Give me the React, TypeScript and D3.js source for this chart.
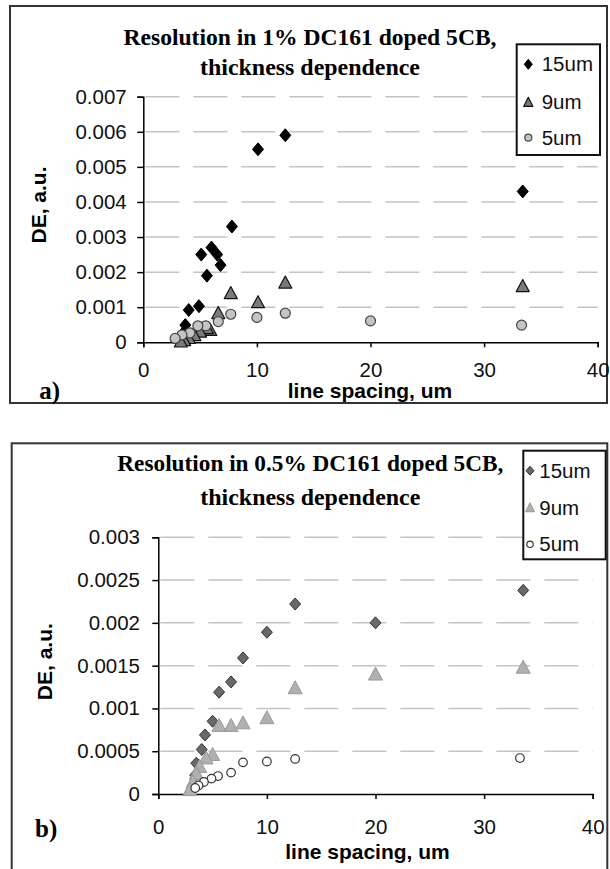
import React, { useEffect, useRef } from 'react';
import * as d3 from 'd3';

// panel a) 1% DC161
const aSpacing15 = [33.4, 12.5, 10.1, 7.8, 6.0, 5.1, 6.5, 6.8, 5.6, 4.9, 4.0, 3.7, 3.5, 3.3, 3.6];
const aDE15 = [0.0043, 0.0059, 0.0055, 0.0033, 0.0027, 0.0025, 0.0025, 0.0022, 0.0019, 0.00103, 0.00092, 0.00049, 0.00026, 0.00015, 0.00005];
const aSpacing9 = [33.4, 12.5, 10.1, 7.7, 6.6, 5.9, 5.6, 5.0, 4.5, 4.0, 3.6, 3.3];
const aDE9 = [0.0016, 0.0017, 0.00114, 0.0014, 0.00083, 0.00035, 0.0004, 0.0003, 0.0002, 0.00012, 0.00006, 0.00002];
const aSpacing5 = [33.3, 20.0, 12.5, 10.0, 7.7, 6.6, 5.5, 4.8, 4.1, 3.4, 2.8];
const aDE5 = [0.00049, 0.00061, 0.00083, 0.00071, 0.0008, 0.00059, 0.00047, 0.00047, 0.00027, 0.00021, 0.00011];

// panel b) 0.5% DC161
const bSpacing15 = [33.6, 20.0, 12.6, 10.0, 7.8, 6.7, 5.6, 5.0, 4.3, 4.0, 3.5, 3.4, 3.2];
const bDE15 = [0.00238, 0.002, 0.00222, 0.00189, 0.00159, 0.00131, 0.00119, 0.00085, 0.00069, 0.00052, 0.00036, 0.00022, 0.00009];
const bSpacing9 = [33.6, 20.0, 12.6, 10.0, 7.8, 6.7, 5.6, 5.0, 4.4, 3.8, 3.5, 3.2, 2.9];
const bDE9 = [0.00148, 0.0014, 0.00124, 0.00089, 0.00083, 0.0008, 0.0008, 0.00046, 0.00042, 0.00032, 0.00024, 0.00014, 0.00005];
const bSpacing5 = [33.3, 12.6, 10.0, 7.8, 6.7, 5.5, 4.9, 4.2, 3.7, 3.4];
const bDE5 = [0.00042, 0.00041, 0.00038, 0.00037, 0.00025, 0.00021, 0.00018, 0.00014, 0.0001, 0.00007];

const seriesNames = ['15um', '9um', '5um'];
const xTicks = [0, 10, 20, 30, 40];
const aYTicks = [0, 0.001, 0.002, 0.003, 0.004, 0.005, 0.006, 0.007];
const aYLabels = ['0', '0.001', '0.002', '0.003', '0.004', '0.005', '0.006', '0.007'];
const bYTicks = [0, 0.0005, 0.001, 0.0015, 0.002, 0.0025, 0.003];
const bYLabels = ['0', '0.0005', '0.001', '0.0015', '0.002', '0.0025', '0.003'];
const aTitle = ['Resolution in 1% DC161 doped 5CB,', 'thickness dependence'];
const bTitle = ['Resolution in 0.5% DC161 doped 5CB,', 'thickness dependence'];

const SANS = 'Arial, "Liberation Sans", sans-serif';
const SERIF = '"Times New Roman", "Liberation Serif", serif';

function shapePath(kind, cx, cy, s) {
  if (kind === 'diamond') {
    return `M${cx},${cy - s.h}L${cx + s.w},${cy}L${cx},${cy + s.h}L${cx - s.w},${cy}Z`;
  }
  if (kind === 'triangle') {
    return `M${cx},${cy - s.h * 0.55}L${cx + s.w},${cy + s.h * 0.45}L${cx - s.w},${cy + s.h * 0.45}Z`;
  }
  return null;
}

function drawMarker(g, kind, cx, cy, s, st) {
  if (kind === 'circle') {
    g.append('circle').attr('cx', cx).attr('cy', cy).attr('r', s.r)
      .attr('fill', st.fill).attr('stroke', st.stroke).attr('stroke-width', st.sw);
  } else {
    g.append('path').attr('d', shapePath(kind, cx, cy, s))
      .attr('fill', st.fill).attr('stroke', st.stroke).attr('stroke-width', st.sw)
      .attr('stroke-linejoin', 'round');
  }
}

function drawPanel(svg, p) {
  const g = svg.append('g');

  g.append('rect').attr('x', p.box[0]).attr('y', p.box[1])
    .attr('width', p.box[2] - p.box[0]).attr('height', p.box[3] - p.box[1])
    .attr('fill', 'white').attr('stroke', '#333').attr('stroke-width', 2);

  const x = d3.scaleLinear().domain([0, 40]).range([p.plot.x0, p.plot.x1]);
  const y = d3.scaleLinear().domain([0, p.yTicks[p.yTicks.length - 1]]).range([p.plot.y0, p.plot.y1]);

  // gridlines
  g.selectAll('.grid').data(p.yTicks.slice(1)).enter().append('line')
    .attr('x1', p.plot.x0 + 2).attr('x2', p.plot.x1)
    .attr('y1', d => y(d)).attr('y2', d => y(d))
    .attr('stroke', '#c4c4c4').attr('stroke-width', 1.5)
    .attr('stroke-dasharray', '34 14');

  // y axis
  const yAxis = d3.axisLeft(y).tickValues(p.yTicks).tickSize(6)
    .tickFormat((d, i) => p.yLabels[i]);
  const ya = g.append('g').attr('transform', `translate(${p.plot.x0},0)`).call(yAxis);
  ya.select('.domain').attr('stroke', '#000').attr('stroke-width', 1.5);
  ya.selectAll('.tick line').attr('stroke', '#000').attr('stroke-width', 1.5);
  ya.selectAll('.tick text').attr('x', -p.yLabelGap).attr('font-family', SANS)
    .attr('font-size', 20.5).attr('fill', '#111');

  // x axis
  const xAxis = d3.axisBottom(x).tickValues(xTicks).tickSize(5).tickSizeOuter(5);
  const xa = g.append('g').attr('transform', `translate(0,${p.plot.y0})`).call(xAxis);
  xa.select('.domain').attr('stroke', '#000').attr('stroke-width', 1.5);
  xa.selectAll('.tick line').attr('stroke', '#000').attr('stroke-width', 1.5);
  xa.selectAll('.tick text').attr('y', p.xLabelGap).attr('dy', '0.35em')
    .attr('font-family', SANS).attr('font-size', 20.5).attr('fill', '#111');

  // data
  p.series.forEach(se => {
    se.xs.forEach((v, i) => {
      drawMarker(g, se.kind, x(v), y(se.ys[i]), se.size, se.style);
    });
  });

  // title
  p.title.forEach((t, i) => {
    g.append('text').attr('x', p.titleX).attr('y', p.titleY[i]).attr('dy', '0.35em')
      .attr('text-anchor', 'middle').attr('font-family', SERIF).attr('font-weight', 'bold')
      .attr('font-size', 23).attr('textLength', p.titleLen[i]).attr('lengthAdjust', 'spacingAndGlyphs')
      .text(t);
  });

  // axis titles
  g.append('text').attr('transform', `translate(${p.yTitle[0]},${p.yTitle[1]}) rotate(-90)`)
    .attr('dy', '0.35em').attr('text-anchor', 'middle').attr('font-family', SANS)
    .attr('font-weight', 'bold').attr('font-size', 21).text('DE, a.u.');
  g.append('text').attr('x', p.xTitle[0]).attr('y', p.xTitle[1]).attr('dy', '0.35em')
    .attr('text-anchor', 'middle').attr('font-family', SANS)
    .attr('font-weight', 'bold').attr('font-size', 21).text('line spacing, um');

  g.append('text').attr('x', p.tag[0]).attr('y', p.tag[1]).attr('dy', '0.35em')
    .attr('font-family', SERIF).attr('font-weight', 'bold').attr('font-size', 25).text(p.tagText);

  // legend
  const L = p.legend;
  g.append('rect').attr('x', L.x).attr('y', L.y).attr('width', L.w).attr('height', L.h)
    .attr('fill', 'white').attr('stroke', '#111').attr('stroke-width', 2);
  p.series.forEach((se, i) => {
    drawMarker(g, se.kind, L.mx, L.rows[i], se.legendSize, se.style);
    g.append('text').attr('x', L.tx).attr('y', L.rows[i]).attr('dy', '0.35em')
      .attr('font-family', SANS).attr('font-size', 20.5).attr('fill', '#111').text(seriesNames[i]);
  });
}

export default function App() {
  const ref = useRef(null);

  useEffect(() => {
    const svg = d3.select(ref.current);
    svg.selectAll('*').remove();

    drawPanel(svg, {
      box: [10, 6, 607, 403],
      plot: { x0: 143.3, x1: 597.7, y0: 342.3, y1: 96.7 },
      yTicks: aYTicks, yLabels: aYLabels, yLabelGap: 16.6, xLabelGap: 28,
      title: aTitle, titleX: 310, titleY: [36.7, 66.7], titleLen: [373, 220],
      yTitle: [38.3, 205], xTitle: [370, 391], tag: [39.3, 390], tagText: 'a)',
      legend: { x: 516.7, y: 44.3, w: 83.3, h: 110.7, rows: [64.3, 102.3, 137.7], mx: 528.3, tx: 541.7 },
      series: [
        { xs: aSpacing15, ys: aDE15, kind: 'diamond', size: { w: 5.5, h: 6.5 }, legendSize: { w: 4, h: 5 },
          style: { fill: '#000', stroke: '#000', sw: 1 } },
        { xs: aSpacing9, ys: aDE9, kind: 'triangle', size: { w: 6.5, h: 12 }, legendSize: { w: 4.5, h: 9 },
          style: { fill: '#7a7a7a', stroke: '#111', sw: 1.2 } },
        { xs: aSpacing5, ys: aDE5, kind: 'circle', size: { r: 5 }, legendSize: { r: 3.5 },
          style: { fill: '#c4c4c4', stroke: '#444', sw: 1.2 } },
      ],
    });

    drawPanel(svg, {
      box: [11.7, 443.3, 607.3, 880],
      plot: { x0: 158.3, x1: 592.7, y0: 794, y1: 537.3 },
      yTicks: bYTicks, yLabels: bYLabels, yLabelGap: 18.3, xLabelGap: 32.7,
      title: bTitle, titleX: 310.3, titleY: [463.3, 496.7], titleLen: [386, 220],
      yTitle: [45, 661.7], xTitle: [367.5, 851.7], tag: [35, 828], tagText: 'b)',
      legend: { x: 523.3, y: 450.7, w: 82.4, h: 108.6, rows: [470.7, 507.7, 544.3], mx: 530, tx: 539.3 },
      series: [
        { xs: bSpacing15, ys: bDE15, kind: 'diamond', size: { w: 5.5, h: 6 }, legendSize: { w: 4, h: 4.5 },
          style: { fill: '#686868', stroke: '#333', sw: 1 } },
        { xs: bSpacing9, ys: bDE9, kind: 'triangle', size: { w: 7, h: 13 }, legendSize: { w: 4.5, h: 9 },
          style: { fill: '#b0b0b0', stroke: '#999', sw: 1 } },
        { xs: bSpacing5, ys: bDE5, kind: 'circle', size: { r: 4.3 }, legendSize: { r: 3.2 },
          style: { fill: '#fff', stroke: '#333', sw: 1.2 } },
      ],
    });
  }, []);

  return (
    <svg ref={ref} width={610} height={869}
      style={{ position: 'absolute', left: 0, top: 0, background: '#fff' }} />
  );
}
